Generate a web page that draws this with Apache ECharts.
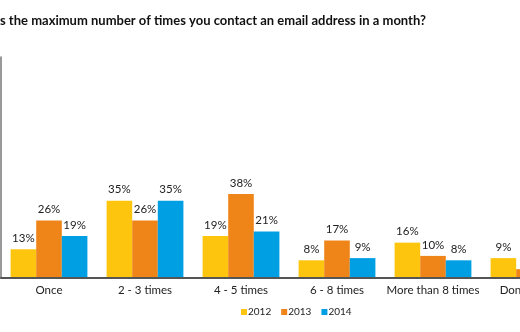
<!DOCTYPE html>
<html>
<head>
<meta charset="utf-8">
<script src="https://cdn.jsdelivr.net/npm/echarts@6/dist/echarts.min.js"></script>
<style>
  html, body { margin: 0; padding: 0; background: #fff; overflow: hidden; }
  body { width: 520px; height: 332px; position: relative; }
  #chart { position: absolute; left: -40px; top: 0; width: 620px; height: 332px; }
</style>
</head>
<body>
<div id="chart"></div>
<script>
// Survey answers per contact frequency, by year (percent of respondents)
const categories = ['Once', '2 - 3 times', '4 - 5 times', '6 - 8 times', 'More than 8 times', "Don't know"];
const years = ['2012', '2013', '2014'];
const values2012 = [13, 35, 19, 8, 16, 9];
const values2013 = [26, 26, 38, 17, 10, 4];
const values2014 = [19, 35, 21, 9, 8, 3];
const seriesColors = ['#FDC50E', '#EF8418', '#009FE3'];
const titleText = 'What is the maximum number of times you contact an email address in a month?';

const font = 'Lato, "Noto Sans", sans-serif';
const titleFont = 'bold 13px ' + font;

// The title runs off the left edge of the frame; start it so the hidden part is "What i"
const measure = document.createElement('canvas').getContext('2d');
measure.font = titleFont;
const hiddenWidth = measure.measureText('What i').width;

const chart = echarts.init(document.getElementById('chart'), null, { renderer: 'canvas' });
const dataSets = [values2012, values2013, values2014];

chart.setOption({
  animation: false,
  textStyle: { fontFamily: font },
  graphic: [{
    type: 'text',
    x: 40 - hiddenWidth,
    y: 21,
    style: {
      text: titleText,
      font: titleFont,
      fill: '#111',
      textAlign: 'left',
      textVerticalAlign: 'middle'
    }
  }],
  legend: {
    left: 281,
    top: 307,
    padding: 0,
    icon: 'rect',
    itemWidth: 6,
    itemHeight: 6,
    itemGap: 10,
    textStyle: { fontSize: 10, color: '#222', padding: [0, 0, 0, -4] },
    data: years
  },
  grid: { left: 41, right: 3, top: 57, bottom: 54, containLabel: false },
  xAxis: {
    type: 'category',
    data: categories,
    z: 5,
    axisLine: { show: true, lineStyle: { color: '#555', width: 2 } },
    axisTick: { show: false },
    axisLabel: { color: '#222', fontSize: 11.5, margin: 6, interval: 0 }
  },
  yAxis: {
    type: 'value',
    min: 0,
    max: 100,
    axisLine: { show: true, lineStyle: { color: '#777', width: 1.5 } },
    axisTick: { show: false },
    axisLabel: { show: false },
    splitLine: { show: false }
  },
  series: years.map((y, i) => ({
    name: y,
    type: 'bar',
    data: dataSets[i],
    barGap: 0,
    barCategoryGap: '20%',
    itemStyle: { color: seriesColors[i] },
    label: {
      show: true,
      position: 'top',
      distance: 5,
      formatter: '{c}%',
      fontSize: 11.5,
      color: '#222'
    }
  }))
});
</script>
</body>
</html>
